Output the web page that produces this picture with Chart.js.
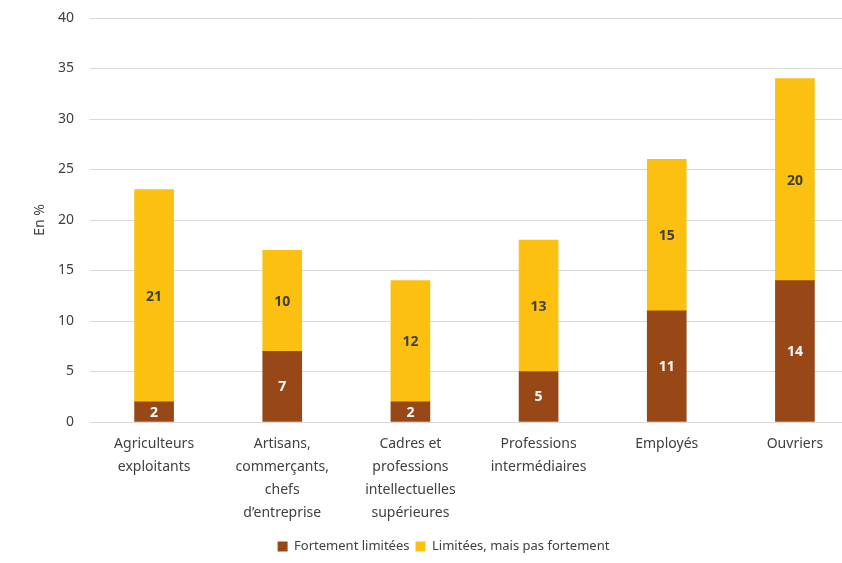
<!DOCTYPE html>
<html>
<head>
<meta charset="utf-8">
<script src="https://cdn.jsdelivr.net/npm/chart.js@4.4.1/dist/chart.umd.min.js"></script>
<style>
  html, body { margin: 0; padding: 0; background: #fff; overflow: hidden; }
  #wrap { width: 862px; height: 563px; }
</style>
</head>
<body>
<div id="wrap"><canvas id="myChart"></canvas></div>
<script>
// categories (multi-line labels)
var categories = [
  ["Agriculteurs", "exploitants"],
  ["Artisans,", "commerçants,", "chefs", "d\u2019entreprise"],
  ["Cadres et", "professions", "intellectuelles", "supérieures"],
  ["Professions", "intermédiaires"],
  ["Employés"],
  ["Ouvriers"]
];
var fortement = [2, 7, 2, 5, 11, 14];
var limitees = [21, 10, 12, 13, 15, 20];

// draw the values inside the bars
var valueLabels = {
  id: 'valueLabels',
  afterDatasetsDraw: function(chart) {
    var ctx = chart.ctx;
    ctx.save();
    ctx.font = 'bold 14px "Noto Sans"';
    ctx.textAlign = 'center';
    ctx.textBaseline = 'middle';
    chart.data.datasets.forEach(function(ds, i) {
      var meta = chart.getDatasetMeta(i);
      ctx.fillStyle = i === 0 ? '#ffffff' : '#404040';
      meta.data.forEach(function(bar, j) {
        var y = (bar.y + bar.base) / 2;
        ctx.fillText(ds.data[j], bar.x, y + 1);
      });
    });
    ctx.restore();
  }
};

var ctx = document.getElementById("myChart");
var myChart = new Chart(ctx, {
  type: 'bar',
  data: {
    labels: categories,
    datasets: [{
        label: "Fortement limitées",
        data: fortement,
        backgroundColor: "#984817",
        barThickness: 39
      }, {
        label: "Limitées, mais pas fortement",
        data: limitees,
        backgroundColor: "#fcc010",
        barThickness: 39
      }
    ]
  },
  options: {
    responsive: true,
    maintainAspectRatio: false,
    animation: false,
    layout: { padding: { top: 18, right: 3, bottom: 0, left: 28 } },
    plugins: {
      legend: {
        display: true,
        position: 'bottom',
        labels: {
          boxWidth: 10,
          boxHeight: 10,
          padding: 6,
          color: '#404040',
          font: { family: 'Noto Sans', size: 13 }
        }
      },
      tooltip: { enabled: false }
    },
    scales: {
      x: {
        stacked: true,
        grid: { display: false },
        border: { color: '#d9d9d9', width: 1 },
        ticks: {
          color: '#404040',
          padding: 2,
          maxRotation: 0,
          autoSkip: false,
          font: { family: 'Noto Sans', size: 14, lineHeight: 1.65 }
        },
        afterFit: function(s) { s.height = 112; }
      },
      y: {
        stacked: true,
        min: 0,
        max: 40,
        border: { display: false },
        grid: { color: '#d9d9d9', drawTicks: false },
        ticks: {
          stepSize: 5,
          padding: 16,
          color: '#404040',
          font: { family: 'Noto Sans', size: 14 }
        },
        title: {
          display: true,
          text: 'En %',
          color: '#404040',
          font: { family: 'Noto Sans', size: 14 }
        },
        afterFit: function(s) { s.width = 62; s.paddingTop = 0; s.paddingBottom = 0; }
      }
    }
  },
  plugins: [valueLabels]
});
</script>
</body>
</html>
